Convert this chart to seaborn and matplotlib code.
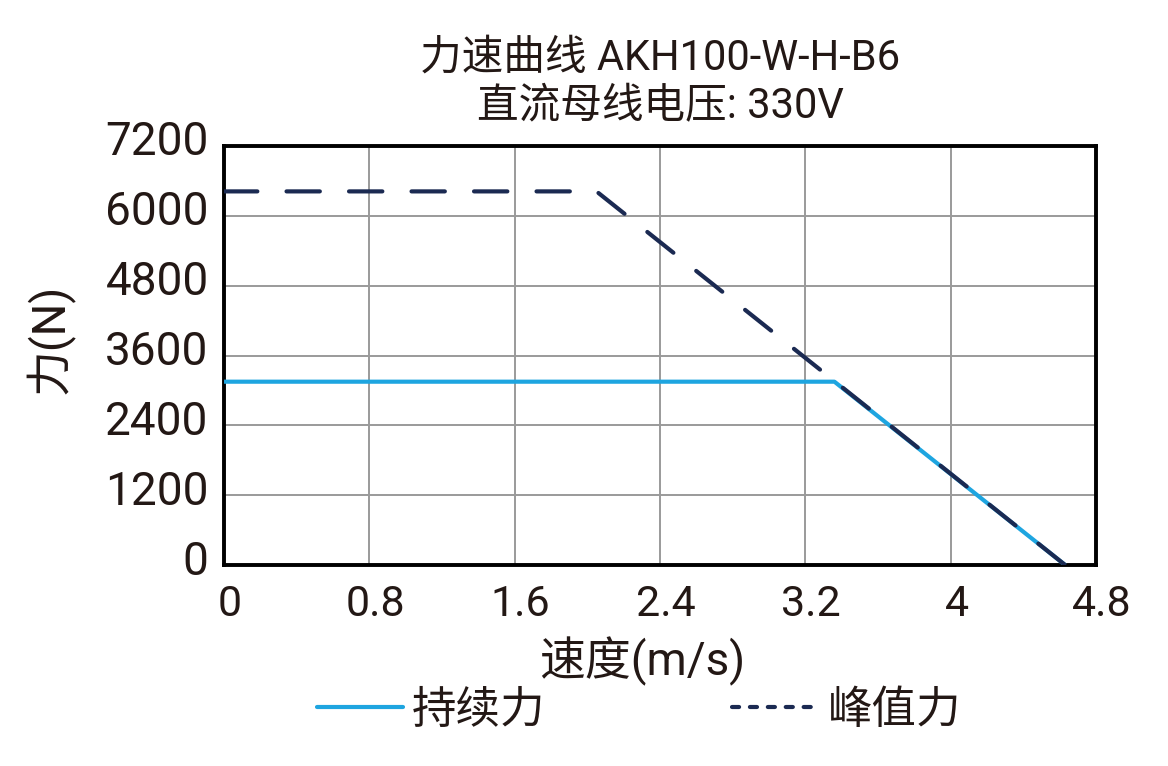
import matplotlib
matplotlib.use('Agg')
import matplotlib.pyplot as plt
from matplotlib.lines import Line2D
from matplotlib.transforms import ScaledTranslation
import seaborn as sns
import pandas as pd

# data
cont_speed = [0, 3.36, 4.63]
cont_force = [3150, 3150, 0]
peak_speed = [0, 2.05, 4.63]
peak_force = [6420, 6420, 0]
x_ticks = [0, 0.8, 1.6, 2.4, 3.2, 4, 4.8]
x_labels = ['0', '0.8', '1.6', '2.4', '3.2', '4', '4.8']
y_ticks = [0, 1200, 2400, 3600, 4800, 6000, 7200]

sns.set_theme(style='white')
plt.rcParams['font.family'] = ['Roboto', 'Noto Sans CJK SC', 'DejaVu Sans']
plt.rcParams['axes.unicode_minus'] = False

txt = '#231815'
c_cont = '#1ea5e0'
c_peak = '#1b2a52'

df_cont = pd.DataFrame({'speed': cont_speed, 'force': cont_force})
df_peak = pd.DataFrame({'speed': peak_speed, 'force': peak_force})

fig = plt.figure(figsize=(11.68, 7.66), dpi=100)
ax = fig.add_axes([0.1918, 0.2624, 0.7466, 0.547])

sns.lineplot(data=df_cont, x='speed', y='force', ax=ax, color=c_cont,
             lw=3, solid_capstyle='butt', zorder=3)
sns.lineplot(data=df_peak, x='speed', y='force', ax=ax, color=c_peak,
             lw=3, dashes=False, zorder=4)
ax.lines[-1].set_dashes((8, 7))
ax.lines[-1].set_dash_capstyle('round')

ax.set_xlim(0, 4.8)
ax.set_ylim(0, 7200)
ax.set_xticks(x_ticks)
ax.set_xticklabels(x_labels)
ax.set_yticks(y_ticks)
ax.grid(True, color='#9a9a9a', lw=1.4)
ax.tick_params(axis='both', length=0, colors=txt)
ax.tick_params(axis='x', labelsize=31, pad=14)
ax.tick_params(axis='y', labelsize=33, pad=11)
for s in ax.spines.values():
    s.set_color('black')
    s.set_linewidth(2.8)

# labels in the reference sit a little off the tick positions
dx = ScaledTranslation(6 / 100, 0, fig.dpi_scale_trans)
dy = ScaledTranslation(0, 8 / 100, fig.dpi_scale_trans)
for lab in ax.get_xticklabels():
    lab.set_transform(lab.get_transform() + dx)
for lab in ax.get_yticklabels():
    lab.set_transform(lab.get_transform() + dy)

ax.set_xlabel('速度(m/s)', fontsize=33, color=txt)
ax.xaxis.set_label_coords(0.479, -0.17)
ax.set_ylabel('力(N)', fontsize=33, color=txt)
ax.yaxis.set_label_coords(-0.171, 0.54)
ax.set_title('力速曲线 AKH100-W-H-B6\n直流母线电压: 330V', fontsize=30,
             color=txt, linespacing=1.25, pad=20)

handles = [Line2D([], [], color=c_cont, lw=3, solid_capstyle='round'),
           Line2D([], [], color=c_peak, lw=3, dashes=(1.7, 2.6),
                  dash_capstyle='round')]
leg = fig.legend(handles, ['持续力', '峰值力'], loc='center',
                 bbox_to_anchor=(0.547, 0.0718), ncol=2, frameon=False,
                 fontsize=32, handlelength=1.95, handletextpad=0.2,
                 columnspacing=4.2)
for t in leg.get_texts():
    t.set_color(txt)

fig.savefig('out.png', dpi=100)
